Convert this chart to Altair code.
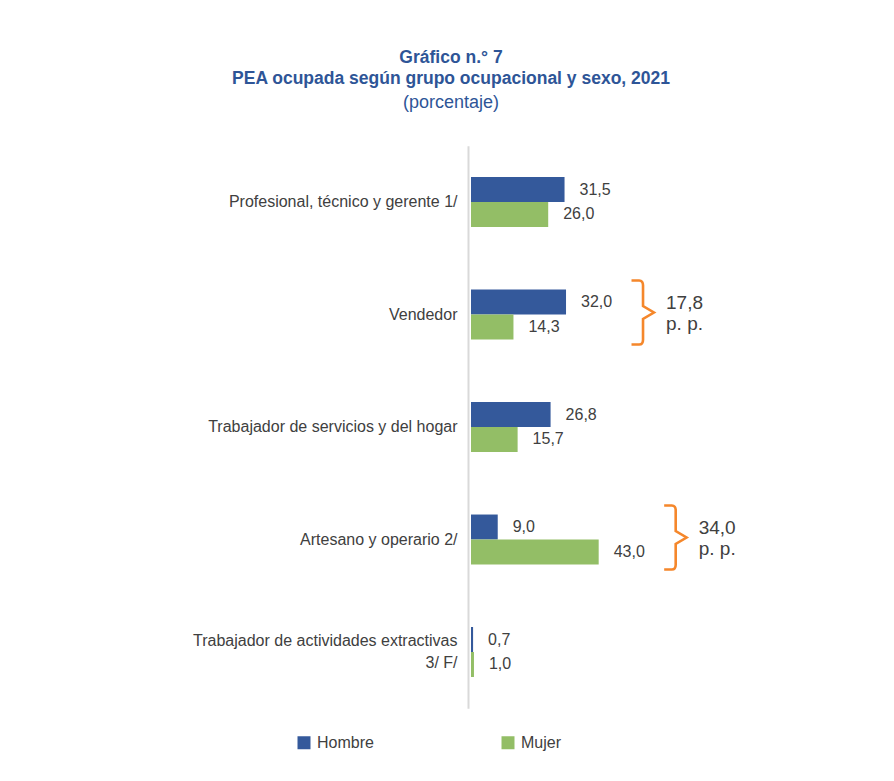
import altair as alt
import pandas as pd

categories = [
    "Profesional, técnico y gerente 1/",
    "Vendedor",
    "Trabajador de servicios y del hogar",
    "Artesano y operario 2/",
    "Trabajador de actividades extractivas\n3/ F/",
]
series = ["Hombre", "Mujer"]
hombre = [31.5, 32.0, 26.8, 9.0, 0.7]
mujer = [26.0, 14.3, 15.7, 43.0, 1.0]
gap_categories = ["Vendedor", "Artesano y operario 2/"]
gap_values = ["17,8", "34,0"]
gap_unit = "p. p."

rows = []
for c, h, m in zip(categories, hombre, mujer):
    rows.append({"cat": c, "sexo": "Hombre", "valor": h})
    rows.append({"cat": c, "sexo": "Mujer", "valor": m})
df = pd.DataFrame(rows)
df["etiqueta"] = df["valor"].map(lambda v: f"{v:.1f}".replace(".", ","))

gap_rows = []
for c, g in zip(gap_categories, gap_values):
    i = categories.index(c)
    gap_rows.append({"cat": c, "xmax": max(hombre[i], mujer[i]), "texto": g + "\n" + gap_unit})
gdf = pd.DataFrame(gap_rows)

BLUE = "#34599B"
GREEN = "#93BE66"
ORANGE = "#F5872B"
TXT = "#404040"
FONT = "Liberation Sans"

xscale = alt.Scale(domain=[0, 134.7], nice=False, zero=True)
yenc = alt.Y(
    "cat:N",
    sort=categories,
    scale=alt.Scale(paddingInner=0.556, paddingOuter=0.278),
    axis=alt.Axis(
        title=None,
        domainColor="#d9d9d9",
        domainWidth=2,
        ticks=False,
        grid=False,
        labelFont=FONT,
        labelFontSize=16,
        labelColor=TXT,
        labelPadding=11,
        labelLimit=400,
        labelLineHeight=22,
        labelExpr="split(datum.label, '\\n')",
        labelOffset={"condition": {"test": "indexof(datum.value, '\\n') >= 0", "value": -11}, "value": 0},
        offset=3,
    ),
)

base = alt.Chart(df)

bars = base.mark_bar().encode(
    x=alt.X("valor:Q", scale=xscale, axis=None),
    y=yenc,
    yOffset=alt.YOffset("sexo:N", sort=series),
    color=alt.Color(
        "sexo:N",
        scale=alt.Scale(domain=series, range=[BLUE, GREEN]),
        legend=alt.Legend(
            title=None,
            orient="none",
            legendX=-175,
            legendY=589,
            direction="horizontal",
            symbolType="square",
            symbolSize=169,
            symbolStrokeWidth=0,
            labelFont=FONT,
            labelFontSize=16,
            labelColor=TXT,
            labelOffset=5,
            columnPadding=126,
            padding=0,
        ),
    ),
)

labels = base.mark_text(
    align="left", baseline="middle", dx=15, font=FONT, fontSize=16, color=TXT
).encode(
    x=alt.X("valor:Q", scale=xscale, axis=None),
    y=yenc,
    yOffset=alt.YOffset("sexo:N", sort=series),
    text="etiqueta:N",
)

BRACE = "M -0.36 -1 L -0.12 -1 Q 0 -1 0 -0.85 L 0 -0.2 L 0.34 0 L 0 0.2 L 0 0.85 Q 0 1 -0.12 1 L -0.36 1"

brace = alt.Chart(gdf).mark_point(
    shape=BRACE, size=4096, filled=False, stroke=ORANGE, color=ORANGE,
    strokeWidth=2.6, opacity=1, xOffset=77, yOffset=-2,
).encode(
    x=alt.X("xmax:Q", scale=xscale, axis=None),
    y=yenc,
)

gap_text = alt.Chart(gdf).mark_text(
    align="left", baseline="middle", dx=100, dy=-12, font=FONT, fontSize=19,
    lineBreak="\n", lineHeight=21, color=TXT,
).encode(
    x=alt.X("xmax:Q", scale=xscale, axis=None),
    y=yenc,
    text="texto:N",
)

chart = (
    alt.layer(bars, labels, brace, gap_text)
    .properties(
        width=400,
        height=562.5,
        autosize=alt.AutoSizeParams(type="none"),
        padding={"left": 463, "top": 137.75, "right": 15, "bottom": 55},
        background="white",
        title=alt.TitleParams(
            text=["Gráfico n.° 7", "PEA ocupada según grupo ocupacional y sexo, 2021"],
            subtitle="(porcentaje)",
            anchor="middle",
            frame="group",
            dx=-220,
            font=FONT,
            fontSize=17.5,
            fontWeight="bold",
            color="#2E5597",
            lineHeight=21.5,
            subtitleFont=FONT,
            subtitleFontSize=18,
            subtitleFontWeight="normal",
            subtitleColor="#2E5597",
            subtitlePadding=6,
            offset=34,
        ),
    )
    .configure_view(stroke=None)
)

chart.save("out.html", embed_options={"renderer": "svg", "actions": False})
